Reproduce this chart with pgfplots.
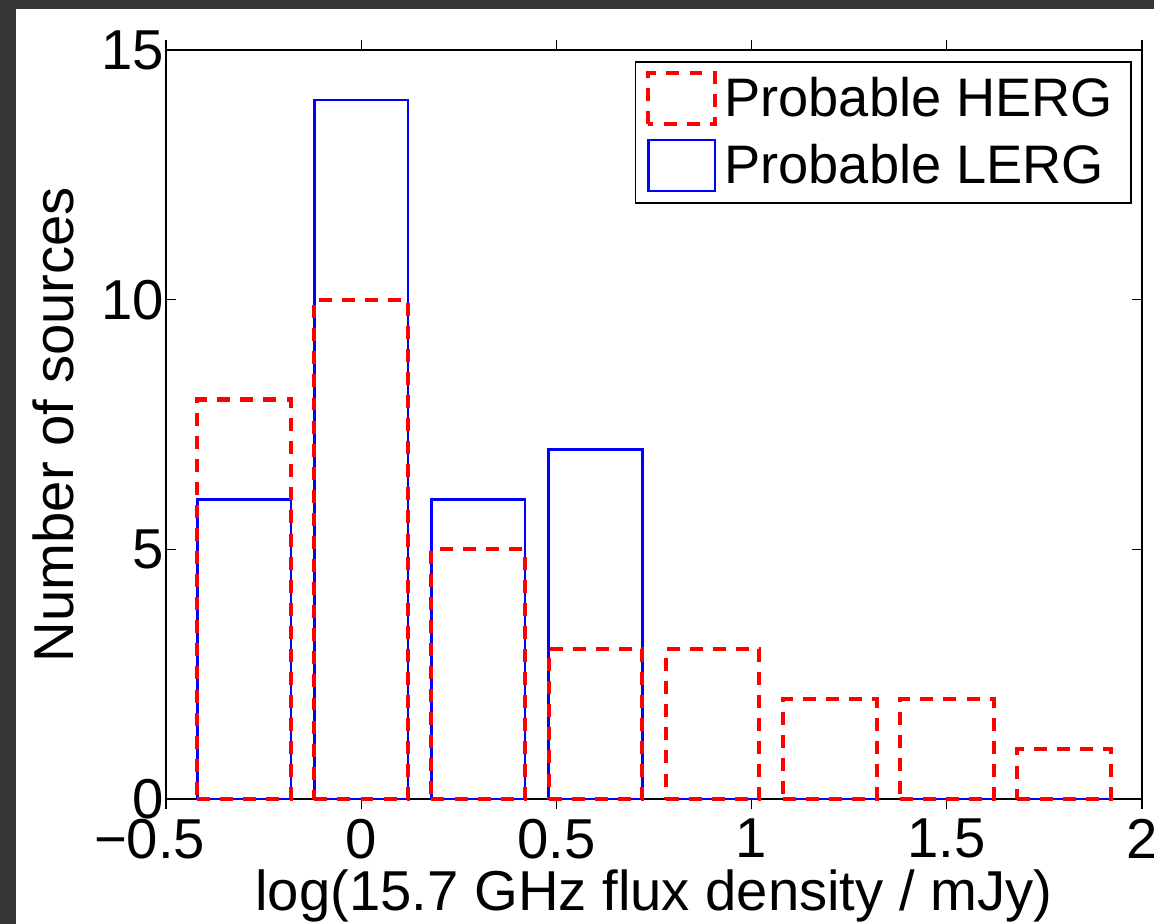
\documentclass[border=0pt]{standalone}
\usepackage{fontspec}
\setmainfont{Liberation Sans}
\usepackage{pgfplots}
\pgfplotsset{compat=1.18}
\definecolor{bgdark}{RGB}{54,54,54}
\definecolor{herg}{RGB}{255,0,0}
\definecolor{lerg}{RGB}{0,0,255}
\pgfplotstableread{
x y
-0.3 8
0.0 10
0.3 5
0.6 3
0.9 3
1.2 2
1.5 2
1.8 1
}\herg
\pgfplotstableread{
x y
-0.3 6
0.0 14
0.3 6
0.6 7
0.9 0
1.2 0
1.5 0
1.8 0
}\lerg
\begin{document}
\begin{tikzpicture}
\useasboundingbox (-57.55pt,-43.33pt) rectangle (342.51pt,276.99pt);
\fill[bgdark] (-57.55pt,-43.33pt) rectangle (342.51pt,276.99pt);
\fill[white] (-52.0pt,-43.33pt) rectangle (342.51pt,273.87pt);
\begin{axis}[
  at={(0,0)}, anchor=south west,
  scale only axis, width=338.35pt, height=259.66pt,
  xmin=-0.5, xmax=2, ymin=0, ymax=15,
  xtick={-0.5,0,0.5,1,1.5,2},
  xticklabels={\llap{−}0.5,0,0.5,1,1.5,2},
  ytick={0,5,10,15},
  yticklabels={0,5,10,15},
  axis line style={line width=0.6pt},
  major tick length=3.5pt,
  tick style={line width=0.4pt, black},
  tick align=inside,
  ticklabel style={font=\fontsize{19.5}{23}\selectfont},
  yticklabel style={xshift=2.7pt},
  label style={font=\fontsize{19.5}{23}\selectfont},
  xlabel={log(15.7 GHz flux density / mJy)},
  ylabel={Number of sources},
  xlabel style={at={(axis description cs:0.5,0)}, anchor=base, yshift=-38.5pt},
  ylabel style={at={(axis description cs:0,0.5)}, anchor=base, yshift=31.9pt},
  clip=false,
  ybar, bar width=0.24, bar shift=0pt,
  reverse legend,
  legend style={at={(axis description cs:0.98975,0.98531)}, anchor=north east,
    draw=black, line width=0.6pt, inner xsep=3.7pt, inner ysep=1.3pt,
    font=\fontsize{18.8}{22}\selectfont, row sep=0pt,
    nodes={inner xsep=2.5pt, inner ysep=4pt}},
  legend cell align=left,
  legend image code/.code={\draw[#1] (0pt,-8.85pt) rectangle (23.2pt,8.85pt);},
]
\addplot[draw=lerg, fill=none, line width=0.9pt] table[x=x,y=y] {\lerg};
\addplot[draw=herg, fill=none, line width=1.4pt, dash pattern=on 4.5pt off 3.5pt] table[x=x,y=y] {\herg};
\legend{Probable LERG, Probable HERG}
\end{axis}
\end{tikzpicture}
\end{document}
